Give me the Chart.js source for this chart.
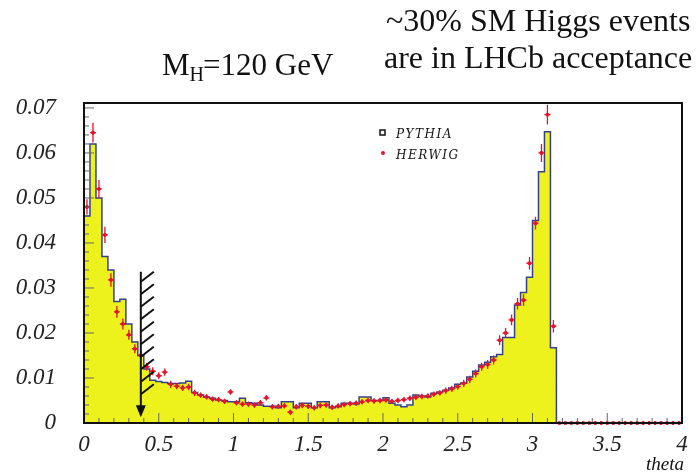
<!DOCTYPE html>
<html>
<head>
<meta charset="utf-8">
<script src="https://cdn.jsdelivr.net/npm/chart.js@4.4.1/dist/chart.umd.min.js"></script>
<style>
  html, body { margin: 0; padding: 0; background: #fff; }
  #wrap { width: 700px; height: 474px; }
</style>
</head>
<body>
<div id="wrap"><canvas id="thetaChart" width="700" height="474"></canvas></div>
<script>
// binning: 100 bins of 0.04 in theta, only the first 79 are filled
const binStart = 0;
const binWidth = 0.04;
const nBins = 100;

// PYTHIA (yellow histogram), normalised
const pythia = [
  0.046, 0.062, 0.050, 0.037, 0.034, 0.027, 0.0275, 0.022, 0.018, 0.015,
  0.012, 0.0095, 0.0092, 0.009, 0.0088, 0.0088, 0.0089, 0.0093, 0.0068, 0.0062,
  0.0057, 0.0055, 0.0051, 0.005, 0.0047, 0.0047, 0.0055, 0.0045, 0.0044, 0.004,
  0.0037, 0.0037, 0.0034, 0.0047, 0.0047, 0.0034, 0.0044, 0.0044, 0.0034, 0.0047,
  0.0047, 0.0034, 0.0036, 0.0044, 0.0044, 0.0042, 0.0058, 0.0058, 0.005, 0.005,
  0.0056, 0.0044, 0.004, 0.0036, 0.004, 0.0062, 0.006, 0.0058, 0.0066, 0.0069,
  0.0073, 0.0078, 0.0086, 0.0089, 0.0102, 0.0115, 0.0129, 0.0135, 0.0147, 0.0152,
  0.019, 0.019, 0.0262, 0.029, 0.0324, 0.045, 0.0558, 0.0647, 0.0167
];

// HERWIG (red points with errors)
const herwig = [
  0.048, 0.0645, 0.052, 0.0418, 0.0318, 0.0247, 0.022, 0.0196, 0.0165, 0.015,
  0.0125, 0.0115, 0.0105, 0.0113, 0.0086, 0.0082, 0.0078, 0.008, 0.0067, 0.0062,
  0.0058, 0.0053, 0.0052, 0.0048, 0.0069, 0.0045, 0.0042, 0.0042, 0.004, 0.0045,
  0.0056, 0.0036, 0.0037, 0.0038, 0.0024, 0.0036, 0.0039, 0.0037, 0.0034, 0.0039,
  0.004, 0.0035, 0.0038, 0.0041, 0.0043, 0.0044, 0.0047, 0.005, 0.0049, 0.005,
  0.0051, 0.0048, 0.005, 0.0052, 0.0055, 0.0057, 0.0059, 0.006, 0.0064, 0.0067,
  0.0072, 0.0076, 0.0081, 0.0088, 0.0097, 0.011, 0.0125, 0.013, 0.014, 0.0184,
  0.02, 0.0229, 0.0265, 0.0273, 0.0355, 0.0444, 0.060, 0.0685, 0.0215
];
const herwigErr = [
  0.0017, 0.0022, 0.002, 0.0018, 0.0015, 0.0013, 0.0012, 0.0011, 0.001, 0.001,
  0.0009, 0.0009, 0.0008, 0.0008, 0.0008, 0.0007, 0.0007, 0.0007, 0.0007, 0.0006,
  0.0006, 0.0006, 0.0006, 0.0006, 0.0006, 0.0006, 0.0006, 0.0006, 0.0006, 0.0006,
  0.0006, 0.0006, 0.0006, 0.0006, 0.0006, 0.0006, 0.0006, 0.0006, 0.0006, 0.0006,
  0.0006, 0.0006, 0.0006, 0.0006, 0.0006, 0.0006, 0.0006, 0.0006, 0.0006, 0.0006,
  0.0006, 0.0006, 0.0006, 0.0006, 0.0006, 0.0006, 0.0006, 0.0006, 0.0006, 0.0006,
  0.0007, 0.0007, 0.0007, 0.0008, 0.0008, 0.0009, 0.0009, 0.001, 0.001, 0.0011,
  0.0011, 0.0012, 0.0013, 0.0013, 0.0014, 0.0014, 0.002, 0.0022, 0.0014
];

const xTickValues = [0, 0.5, 1, 1.5, 2, 2.5, 3, 3.5, 4];
const yTickValues = [0, 0.01, 0.02, 0.03, 0.04, 0.05, 0.06, 0.07];
const xMax = 4;
const yMax = 0.0711;

// LHCb acceptance cut marker
const cutTheta = 0.38;
const cutTop = 0.0336;
const cutBottom = 0.0013;

const SERIF = '"Liberation Serif", "Times New Roman", serif';
const YELLOW = '#eef21c';
const RED = '#e3142e';

// histogram outline: one point per bin low edge, stepped
const pythiaPts = [];
for (let i = 0; i < nBins; i++) {
    pythiaPts.push({ x: binStart + i * binWidth, y: pythia[i] ?? 0 });
}
pythiaPts.push({ x: xMax, y: 0 });

const herwigPts = [];
for (let i = 0; i < nBins; i++) {
    herwigPts.push({ x: binStart + (i + 0.5) * binWidth, y: herwig[i] ?? 0, err: herwigErr[i] ?? 0 });
}

const decorPlugin = {
    id: 'decor',
    afterDatasetsDraw(chart) {
        const { ctx, scales: { x, y } } = chart;

        // HERWIG error bars
        ctx.save();
        ctx.strokeStyle = RED;
        ctx.lineWidth = 1.3;
        herwigPts.forEach(p => {
            const px = x.getPixelForValue(p.x);
            const x0 = x.getPixelForValue(p.x - binWidth / 2);
            const x1 = x.getPixelForValue(p.x + binWidth / 2);
            const py = y.getPixelForValue(p.y);
            ctx.beginPath();
            ctx.moveTo(x0, py); ctx.lineTo(x1, py);
            if (p.err > 0) {
                ctx.moveTo(px, y.getPixelForValue(p.y - p.err));
                ctx.lineTo(px, y.getPixelForValue(p.y + p.err));
            }
            ctx.stroke();
        });
        ctx.restore();

        // acceptance arrow with hatching
        const ax = x.getPixelForValue(cutTheta);
        const aTop = y.getPixelForValue(cutTop);
        const aBot = y.getPixelForValue(cutBottom);
        ctx.save();
        ctx.strokeStyle = '#111';
        ctx.fillStyle = '#111';
        ctx.lineWidth = 2;
        ctx.beginPath();
        ctx.moveTo(ax, aTop); ctx.lineTo(ax, aBot - 10);
        ctx.stroke();
        ctx.beginPath();
        ctx.moveTo(ax - 5, aBot - 12);
        ctx.lineTo(ax + 5, aBot - 12);
        ctx.lineTo(ax, aBot);
        ctx.closePath();
        ctx.fill();
        for (let k = 0; k < 10; k++) {
            const hy = aTop + 10 + k * 12.5;
            ctx.beginPath();
            ctx.moveTo(ax, hy);
            ctx.lineTo(ax + 13, hy - 10);
            ctx.stroke();
        }
        ctx.restore();
    },
    afterDraw(chart) {
        const { ctx, chartArea: a, scales: { x, y } } = chart;
        ctx.save();

        // inner ticks
        ctx.strokeStyle = '#666';
        ctx.lineWidth = 1;
        ctx.beginPath();
        for (let v = 0; v <= xMax + 1e-9; v += 0.1) {
            const px = x.getPixelForValue(v);
            const major = Math.abs(v * 2 - Math.round(v * 2)) < 1e-6;
            ctx.moveTo(px, a.bottom);
            ctx.lineTo(px, a.bottom - (major ? 10 : 5));
        }
        for (let v = 0; v <= yMax; v += 0.002) {
            const py = y.getPixelForValue(v);
            const major = Math.abs(v * 100 - Math.round(v * 100)) < 1e-6;
            ctx.moveTo(a.left, py);
            ctx.lineTo(a.left + (major ? 10 : 5), py);
        }
        ctx.stroke();

        // frame
        ctx.strokeStyle = '#111';
        ctx.lineWidth = 2;
        ctx.strokeRect(a.left, a.top, a.right - a.left, a.bottom - a.top);

        // titles
        ctx.fillStyle = '#111';
        ctx.textBaseline = 'alphabetic';
        ctx.textAlign = 'left';
        ctx.font = '31px ' + SERIF;
        let tx = 162;
        ctx.fillText('M', tx, 75);
        tx += ctx.measureText('M').width;
        ctx.font = '20px ' + SERIF;
        ctx.fillText('H', tx, 81);
        tx += ctx.measureText('H').width - 1;
        ctx.font = '31px ' + SERIF;
        ctx.fillText('=120 GeV', tx, 75);

        ctx.font = '32px ' + SERIF;
        ctx.fillText('~30% SM Higgs events', 386, 31);
        ctx.fillText('are in LHCb acceptance', 384, 68);

        // x title
        ctx.font = 'italic 19px ' + SERIF;
        ctx.textAlign = 'right';
        ctx.fillText('theta', a.right + 2, 470);

        // legend
        ctx.textAlign = 'left';
        ctx.strokeStyle = '#111';
        ctx.lineWidth = 1.5;
        ctx.strokeRect(380, 130, 5, 5);
        ctx.fillStyle = RED;
        ctx.beginPath();
        ctx.arc(383, 153, 2, 0, Math.PI * 2);
        ctx.fill();
        ctx.fillStyle = '#111';
        ctx.font = 'italic 12px "DejaVu Serif", serif';
        if ('letterSpacing' in ctx) ctx.letterSpacing = '1.5px';
        ctx.fillText('PYTHIA', 396, 138);
        ctx.fillText('HERWIG', 396, 159);
        ctx.restore();
    }
};

new Chart(document.getElementById('thetaChart').getContext('2d'), {
    type: 'line',
    data: {
        datasets: [
            {
                type: 'scatter',
                label: 'HERWIG',
                data: herwigPts,
                backgroundColor: RED,
                borderColor: RED,
                pointRadius: 1.6,
                pointHoverRadius: 0,
                showLine: false,
                clip: false
            },
            {
                label: 'PYTHIA',
                data: pythiaPts,
                stepped: 'before',
                fill: 'origin',
                backgroundColor: YELLOW,
                borderColor: '#34418a',
                borderWidth: 1.5,
                pointRadius: 0
            }
        ]
    },
    options: {
        responsive: false,
        animation: false,
        events: [],
        layout: { padding: { left: 0, right: 18, top: 103, bottom: 0 } },
        plugins: { legend: { display: false }, tooltip: { enabled: false } },
        scales: {
            x: {
                type: 'linear',
                min: 0,
                max: xMax,
                grid: { display: false },
                border: { display: false },
                afterBuildTicks: s => { s.ticks = xTickValues.map(v => ({ value: v })); },
                afterFit: s => { s.height = 51; },
                ticks: {
                    padding: 0,
                    maxRotation: 0,
                    autoSkip: false,
                    color: '#222',
                    font: { family: SERIF, size: 23, style: 'italic' },
                    callback: v => String(+v.toFixed(1))
                }
            },
            y: {
                min: 0,
                max: yMax,
                grid: { display: false },
                border: { display: false },
                afterBuildTicks: s => { s.ticks = yTickValues.map(v => ({ value: v })); },
                afterFit: s => { s.width = 84; },
                ticks: {
                    padding: 20,
                    autoSkip: false,
                    color: '#222',
                    font: { family: SERIF, size: 23, style: 'italic' },
                    callback: v => String(+v.toFixed(2))
                }
            }
        }
    },
    plugins: [decorPlugin]
});
</script>
</body>
</html>
